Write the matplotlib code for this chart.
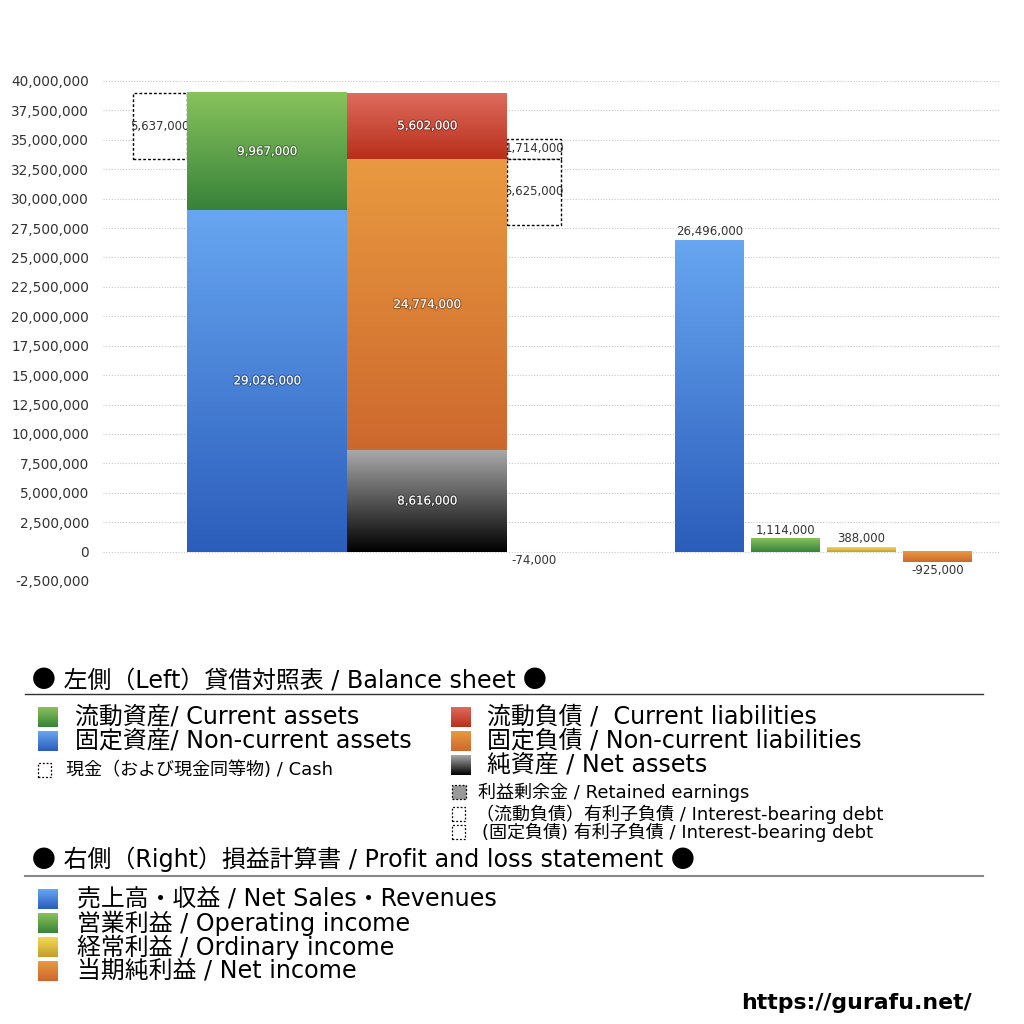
import numpy as np
import matplotlib
matplotlib.use("Agg")
import matplotlib.pyplot as plt
from matplotlib.colors import LinearSegmentedColormap
from matplotlib.patches import Rectangle
from matplotlib.lines import Line2D
import matplotlib.patheffects as pe

plt.rcParams['font.family'] = ['DejaVu Sans', 'Noto Sans CJK JP']
CJK = ['Noto Sans CJK JP', 'DejaVu Sans']

# ---------------- data ----------------
current_assets = 9967000
noncurrent_assets = 29026000
cash = 5637000
current_liabilities = 5602000
noncurrent_liabilities = 24774000
net_assets = 8616000
retained_earnings = -74000
ibd_current = 1714000
ibd_noncurrent = 5625000

pl_labels = ["売上高・収益 / Net Sales・Revenues", "営業利益 / Operating income",
             "経常利益 / Ordinary income", "当期純利益 / Net income"]
pl_values = [26496000, 1114000, 388000, -925000]

yticks = list(range(-2500000, 40000001, 2500000))

# ---------------- styles ----------------
BLUE = ("#67a6f1", "#2b5dbb")
GREEN = ("#88c35b", "#37823a")
RED = ("#de6b5d", "#b82f1b")
ORANGE = ("#e99a40", "#cd682d")
BLACK = ("#a9a9a9", "#000000")
YELLOW = ("#f1da52", "#c59d2e")
pl_colors = [BLUE, GREEN, YELLOW, ORANGE]

W, H = 1024, 1024
fig = plt.figure(figsize=(W / 100, H / 100), dpi=100)
renderer = fig.canvas.get_renderer()

def fx(x):
    return x / W

def fy(y):
    return 1 - y / H

ax_left, ax_right, ax_top, ax_bot = 103, 1000, 81, 581
ax = fig.add_axes([fx(ax_left), fy(ax_bot), fx(ax_right - ax_left), (ax_bot - ax_top) / H])
ax.set_xlim(0, ax_right - ax_left)
ax.set_ylim(-2500000, 40000000)

def px(x):
    return x - ax_left

def grad_bar(x0, x1, bottom, height, cols, z=3):
    y0, y1 = min(bottom, bottom + height), max(bottom, bottom + height)
    cmap = LinearSegmentedColormap.from_list("g", [cols[1], cols[0]])
    ax.imshow(np.linspace(0, 1, 256).reshape(-1, 1), cmap=cmap, origin='lower',
              extent=[x0, x1, y0, y1], aspect='auto', zorder=z, interpolation='bilinear')

def dashed_box(x0, x1, bottom, height, face="white", z=2.6):
    ax.add_patch(Rectangle((x0, bottom), x1 - x0, height, facecolor=face,
                           edgecolor="black", linestyle=(0, (2, 1.5)), linewidth=1.0, zorder=z))

shadow = [pe.withStroke(linewidth=1.6, foreground=(0, 0, 0, 0.3))]
LBL = 8.5
OFF = 720000

def inner_label(x, y, v):
    ax.text(x, y, f"{v:,}", ha='center', va='center', color='white', fontsize=LBL,
            zorder=6, path_effects=shadow)

def outer_label(x, y, v, z=6):
    ax.text(x, y, f"{v:,}", ha='center', va='center', color='#333333', fontsize=LBL, zorder=z)

# grid
ax.set_yticks(yticks)
ax.set_yticklabels([f"{t:,}" for t in yticks], fontsize=9.8, color='#333333')
ax.tick_params(axis='y', length=0, pad=10)
ax.tick_params(axis='x', length=0, labelbottom=False)
for s in ax.spines.values():
    s.set_visible(False)
for t in yticks:
    ax.axhline(t, color='#c8c8c8', linewidth=0.8, linestyle=(0, (1, 1.5)), zorder=1)

# ---------------- balance sheet ----------------
A0, A1 = px(187), px(347)
L0, L1 = px(347), px(507)
D0, D1 = px(507), px(561)
C0, C1 = px(133), px(187)

total_assets = noncurrent_assets + current_assets
grad_bar(A0, A1, 0, noncurrent_assets, BLUE)
grad_bar(A0, A1, noncurrent_assets, current_assets, GREEN)
inner_label((A0 + A1) / 2, noncurrent_assets / 2, noncurrent_assets)
inner_label((A0 + A1) / 2, noncurrent_assets + current_assets / 2, current_assets)

dashed_box(C0, C1, total_assets - cash, cash)
outer_label((C0 + C1) / 2, total_assets - cash / 2, cash, z=2.8)

grad_bar(L0, L1, 0, net_assets, BLACK)
grad_bar(L0, L1, net_assets, noncurrent_liabilities, ORANGE)
cl_base = net_assets + noncurrent_liabilities
grad_bar(L0, L1, cl_base, current_liabilities, RED)
inner_label((L0 + L1) / 2, net_assets / 2, net_assets)
inner_label((L0 + L1) / 2, net_assets + noncurrent_liabilities / 2, noncurrent_liabilities)
inner_label((L0 + L1) / 2, cl_base + current_liabilities / 2, current_liabilities)

dashed_box(D0, D1, cl_base, ibd_current)
dashed_box(D0, D1, cl_base - ibd_noncurrent, ibd_noncurrent)
outer_label((D0 + D1) / 2, cl_base + ibd_current / 2, ibd_current, z=2.8)
outer_label((D0 + D1) / 2, cl_base - ibd_noncurrent / 2, ibd_noncurrent, z=2.8)

ax.add_patch(Rectangle((D0, 0), D1 - D0, retained_earnings, facecolor='#999999',
                       edgecolor='none', zorder=3))
outer_label((D0 + D1) / 2, retained_earnings - OFF, retained_earnings)

# ---------------- P&L ----------------
pl_x0 = [px(675), px(751), px(827), px(903)]
pl_w = 69
for x0, v, c in zip(pl_x0, pl_values, pl_colors):
    grad_bar(x0, x0 + pl_w, 0, v, c)
    ly = v + OFF if v >= 0 else v - OFF
    outer_label(x0 + pl_w / 2, ly, v)

ax.set_xlim(0, ax_right - ax_left)
ax.set_ylim(-2500000, 40000000)

# ---------------- legend area ----------------
def grad_square(x, y, w, h, cols):
    a = fig.add_axes([fx(x), fy(y + h), w / W, h / H])
    cmap = LinearSegmentedColormap.from_list("g", [cols[1], cols[0]])
    a.imshow(np.linspace(0, 1, 64).reshape(-1, 1), cmap=cmap, origin='lower',
             aspect='auto', extent=[0, 1, 0, 1])
    a.set_axis_off()

def dash_square(x, y, w, h, face='white'):
    fig.add_artist(Rectangle((fx(x), fy(y + h)), w / W, h / H, facecolor=face,
                             edgecolor='black', linestyle=(0, (1.5, 1.5)), linewidth=0.9,
                             transform=fig.transFigure))

def hline(y, color, lw):
    fig.add_artist(Line2D([fx(25), fx(983)], [fy(y), fy(y)], color=color, linewidth=lw,
                          transform=fig.transFigure))

def pieces(x, y_base, parts, size):
    """Draw consecutive text parts (text, family) on a common baseline starting at pixel x."""
    cur = x
    for txt, fam in parts:
        kw = {} if fam is None else {'family': fam}
        t = fig.text(fx(cur), fy(y_base), txt, fontsize=size, va='baseline', ha='left', **kw)
        bb = t.get_window_extent(renderer=renderer)
        cur += bb.width

BIG = 17.2
SMALL = 13.0

pieces(32, 687, [("●", CJK), (" 左側（Left）貸借対照表 / Balance sheet ", None), ("●", CJK)], BIG)
hline(694, '#333333', 1.0)

left_items = [("流動資産/ Current assets", GREEN, 717), ("固定資産/ Non-current assets", BLUE, 741)]
for txt, c, y in left_items:
    grad_square(38, y - 10, 20, 20, c)
    fig.text(fx(75), fy(y), txt, fontsize=BIG, va='center', ha='left')
dash_square(38, 763, 13, 14)
fig.text(fx(66), fy(770), "現金（および現金同等物) / Cash", fontsize=SMALL, va='center', ha='left')

right_items = [("流動負債 /  Current liabilities", RED, 717),
               ("固定負債 / Non-current liabilities", ORANGE, 741),
               ("純資産 / Net assets", BLACK, 765)]
for txt, c, y in right_items:
    grad_square(451, y - 10, 20, 20, c)
    fig.text(fx(487), fy(y), txt, fontsize=BIG, va='center', ha='left')
dash_square(452, 785, 14, 14, face='#999999')
fig.text(fx(478), fy(792), "利益剰余金 / Retained earnings", fontsize=SMALL, va='center', ha='left')
dash_square(452, 807, 13, 14)
fig.text(fx(476), fy(814), "（流動負債）有利子負債 / Interest-bearing debt", fontsize=SMALL,
         va='center', ha='left')
dash_square(452, 825, 13, 14)
fig.text(fx(482), fy(832), "(固定負債) 有利子負債 / Interest-bearing debt", fontsize=SMALL,
         va='center', ha='left')

pieces(32, 867, [("●", CJK), (" 右側（Right）損益計算書 / Profit and loss statement ", None),
                 ("●", CJK)], BIG)
hline(876, '#888888', 1.5)

for i, (txt, c) in enumerate(zip(pl_labels, pl_colors)):
    y = 899 + 24 * i
    grad_square(38, y - 10, 20, 20, c)
    fig.text(fx(77), fy(y), txt, fontsize=BIG, va='center', ha='left')

fig.text(fx(972), fy(1003), "https://gurafu.net/", fontsize=15.8, fontweight='bold',
         va='center', ha='right', color='black')

fig.savefig("out.png", dpi=100, facecolor='white')
